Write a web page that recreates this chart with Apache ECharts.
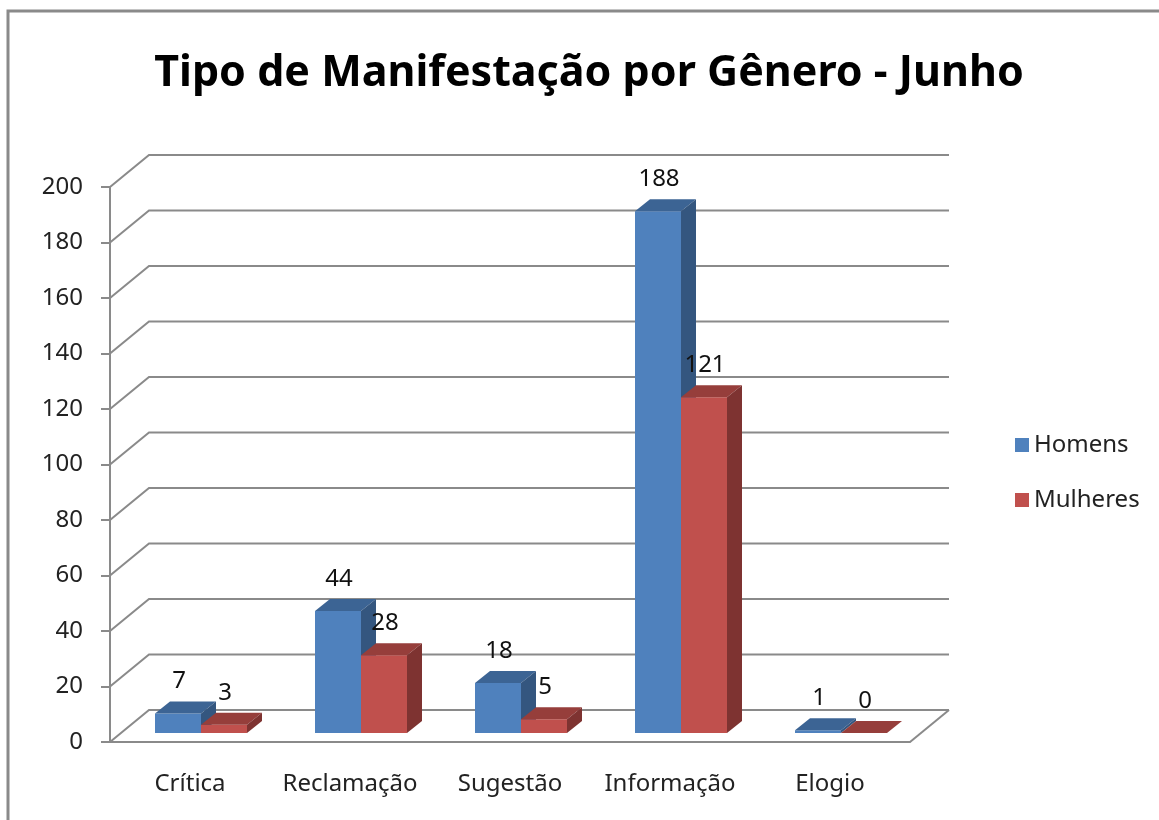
<!DOCTYPE html>
<html>
<head>
<meta charset="utf-8">
<title>Tipo de Manifestação por Gênero - Junho</title>
<script src="https://cdn.jsdelivr.net/npm/echarts@6/dist/echarts.min.js"></script>
<style>
  html, body { margin: 0; padding: 0; background: #fff; }
  #chart { width: 1159px; height: 820px; }
</style>
</head>
<body>
<div id="chart"></div>
<script>
// dados
var categorias = ['Crítica', 'Reclamação', 'Sugestão', 'Informação', 'Elogio']
var homens = [7, 44, 18, 188, 1]
var mulheres = [3, 28, 5, 121, 0]
var yTicks = [0, 20, 40, 60, 80, 100, 120, 140, 160, 180, 200]

// perspectiva (px)
var WALL_DX = 39, WALL_DY = -32
var BAR_OFF_X = 11, BAR_OFF_Y = -9
var BAR_DX = 15, BAR_DY = -12
var BAR_W = 46

var myChart = echarts.init(document.getElementById('chart'))

function renderWall(params, api) {
  var cs = params.coordSys
  var v = api.value(1)
  var y = api.coord([0, v])[1]
  var x0 = cs.x, x1 = cs.x + cs.width
  var lineStyle = { stroke: '#8a8a8a', lineWidth: 2, fill: null }
  var children = [{
    type: 'polyline',
    shape: { points: [[x0, y], [x0 + WALL_DX, y + WALL_DY], [x1 + WALL_DX, y + WALL_DY]] },
    style: lineStyle
  }]
  if (v === 0) {
    children.push({
      type: 'line',
      shape: { x1: x1, y1: y, x2: x1 + WALL_DX, y2: y + WALL_DY },
      style: lineStyle
    })
  }
  return { type: 'group', children: children }
}

function makeBar(side, front, top, dark) {
  return function (params, api) {
    var idx = api.value(0)
    var val = api.value(1)
    var p = api.coord([idx, val])
    var base = api.coord([idx, 0])
    var xl = p[0] + BAR_OFF_X + (side === 0 ? -BAR_W : 0)
    var xr = xl + BAR_W
    var yt = p[1] + BAR_OFF_Y
    var yb = base[1] + BAR_OFF_Y
    return {
      type: 'group',
      children: [
        {
          type: 'rect',
          shape: { x: xl, y: yt, width: BAR_W, height: yb - yt },
          style: { fill: front }
        },
        {
          type: 'polygon',
          shape: { points: [[xl, yt], [xl + BAR_DX, yt + BAR_DY], [xr + BAR_DX, yt + BAR_DY], [xr, yt]] },
          style: { fill: top }
        },
        {
          type: 'polygon',
          shape: { points: [[xr, yt], [xr + BAR_DX, yt + BAR_DY], [xr + BAR_DX, yb + BAR_DY], [xr, yb]] },
          style: { fill: dark }
        },
        {
          type: 'text',
          x: (xl + xr) / 2 + 1,
          y: p[1] - 41,
          style: {
            text: String(val),
            fill: '#111',
            font: '24px "Noto Sans"',
            align: 'center',
            verticalAlign: 'middle'
          }
        }
      ]
    }
  }
}

var option = {
  animation: false,
  backgroundColor: '#fff',
  textStyle: { fontFamily: 'Noto Sans' },
  title: {
    text: 'Tipo de Manifestação por Gênero - Junho',
    left: 584,
    textAlign: 'center',
    top: 47,
    textStyle: {
      fontFamily: 'Noto Sans',
      fontWeight: 'bold',
      fontSize: 43,
      color: '#000'
    }
  },
  legend: {
    data: ['Homens', 'Mulheres'],
    orient: 'vertical',
    left: 1010,
    top: 428,
    icon: 'rect',
    itemWidth: 14,
    itemHeight: 14,
    itemGap: 31,
    selectedMode: false,
    textStyle: { fontSize: 24, color: '#222', fontFamily: 'Noto Sans' }
  },
  graphic: [{
    type: 'polyline',
    shape: { points: [[8, 820], [8, 11], [1159, 11]] },
    style: { stroke: '#8a8a8a', lineWidth: 3, fill: null },
    silent: true
  }],
  grid: {
    left: 110,
    right: 249,
    top: 187,
    bottom: 78,
    containLabel: false
  },
  xAxis: {
    type: 'category',
    data: categorias,
    axisLine: { show: true, lineStyle: { color: '#8a8a8a', width: 2 } },
    axisTick: { show: false },
    axisLabel: { fontSize: 24, color: '#222', margin: 30, interval: 0 },
    splitLine: { show: false }
  },
  yAxis: {
    type: 'value',
    min: 0,
    max: 200,
    interval: 20,
    axisLine: { show: true, lineStyle: { color: '#8a8a8a', width: 2 } },
    axisTick: { show: true, length: 9, lineStyle: { color: '#8a8a8a', width: 2 } },
    axisLabel: { fontSize: 24, color: '#222', margin: 27 },
    splitLine: { show: false }
  },
  series: [
    {
      name: 'paredes',
      type: 'custom',
      renderItem: renderWall,
      data: yTicks.map(function (v) { return [0, v] }),
      silent: true,
      z: 1
    },
    {
      name: 'Homens',
      type: 'custom',
      itemStyle: { color: '#4F81BD' },
      renderItem: makeBar(0, '#4F81BD', '#3C6494', '#34567F'),
      data: homens.map(function (v, i) { return [i, v] }),
      z: 2
    },
    {
      name: 'Mulheres',
      type: 'custom',
      itemStyle: { color: '#C0504D' },
      renderItem: makeBar(1, '#C0504D', '#963E3B', '#7E3331'),
      data: mulheres.map(function (v, i) { return [i, v] }),
      z: 3
    }
  ]
}

option && myChart.setOption(option)
</script>
</body>
</html>
